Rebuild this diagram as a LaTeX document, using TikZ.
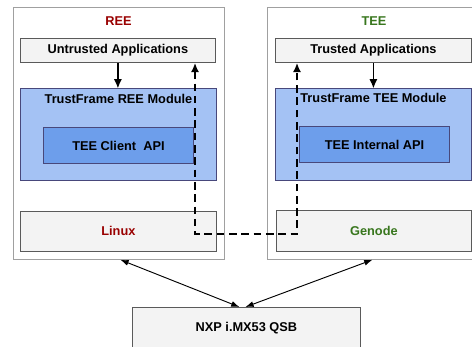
\documentclass[tikz,border=0pt]{standalone}
\usepackage{fontspec}
\setmainfont{Liberation Sans}
\usetikzlibrary{arrows.meta, calc}
\definecolor{cajagris}{HTML}{F3F3F3}
\definecolor{bordegris}{HTML}{A0A0A0}
\definecolor{bordeoscuro}{HTML}{5A5A5A}
\definecolor{azulclaro}{HTML}{A4C2F4}
\definecolor{azuloscuro}{HTML}{6D9EEB}
\definecolor{rojo}{HTML}{990000}
\definecolor{verde}{HTML}{38761D}
\newdimen\pix \pix=0.03cm

\begin{document}
\begin{tikzpicture}[x=0.03cm, y=-0.03cm,
    every node/.style={font=\fontsize{10.9}{13}\selectfont\bfseries},
    mundo/.style={draw=bordegris, fill=white, line width=0.7pt, anchor=north west},
    capa/.style={draw=bordeoscuro, fill=cajagris, line width=0.7pt, anchor=north west},
    modulo/.style={draw=bordeoscuro!80!blue, fill=azulclaro, line width=0.8pt, anchor=north west},
    interfaz/.style={draw=bordeoscuro!80!blue, fill=azuloscuro, line width=0.8pt, anchor=north west},
    flecha/.style={-{Latex[length=8pt,width=7pt]}, line width=1.4pt},
    discont/.style={{Latex[length=8pt,width=7pt]}-{Latex[length=8pt,width=7pt]}, line width=1.6pt, dash pattern=on 6.5pt off 4pt},
    doble/.style={{Latex[length=7pt,width=5pt]}-{Latex[length=7pt,width=5pt]}, line width=0.8pt}]
    \clip (0,0) rectangle (472,347);
    % Cajas grandes de cada mundo
    \node[mundo, minimum width=211*\pix, minimum height=252*\pix] (ree) at (13,7) {};
    \node[mundo, minimum width=208*\pix, minimum height=252*\pix] (tee) at (267,7) {};
    \node[text=rojo] (reetit) at (118.5,21) {REE};
    \node[text=verde] (teetit) at (374,21) {TEE};
    % Aplicaciones
    \node[capa, minimum width=195*\pix, minimum height=24*\pix] (ua) at (20,38) {Untrusted Applications};
    \node[capa, minimum width=196*\pix, minimum height=24*\pix] (ta) at (275,38) {Trusted Applications};
    % Modulos TrustFrame
    \node[modulo, minimum width=196*\pix, minimum height=92*\pix] (reemod) at (20,88.5) {};
    \node[modulo, minimum width=196*\pix, minimum height=92*\pix] (teemod) at (275,88.5) {};
    \node[anchor=north, inner sep=0pt] (reemodtit) at ($(reemod.north)+(0,5.5)$) {TrustFrame REE Module};
    \node[anchor=north, inner sep=0pt] (teemodtit) at ($(teemod.north)+(0,5)$) {TrustFrame TEE Module};
    \node[interfaz, minimum width=150*\pix, minimum height=36*\pix] (tca) at (43,127) {TEE Client\ \ API};
    \node[interfaz, minimum width=150*\pix, minimum height=36*\pix] (tia) at (299,126.5) {TEE Internal API};
    % Sistemas operativos
    \node[capa, minimum width=196*\pix, minimum height=40*\pix, text=rojo] (linux) at (20,211) {Linux};
    \node[capa, minimum width=195*\pix, minimum height=41*\pix, text=verde] (genode) at (276,210) {Genode};
    % Placa
    \node[capa, minimum width=228*\pix, minimum height=42*\pix] (nxp) at (132,307) {NXP i.MX53 QSB};
    % Flechas
    \draw[flecha] (ua.south) -- (ua.south |- reemod.north);
    \draw[flecha] (ta.south) -- (ta.south |- teemod.north);
    \coordinate (dl) at (195,234);
    \coordinate (dr) at (297,234);
    \draw[discont] (ua.south -| dl) -- (dl) -- (dr) -- (ta.south -| dr);
    \draw[doble] ($(ree.south)+(1.5,0)$) -- ($(nxp.north)+(-7,0)$);
    \draw[doble] ($(tee.south)+(1,0)$) -- ($(nxp.north)+(-1,0)$);
\end{tikzpicture}
\end{document}
